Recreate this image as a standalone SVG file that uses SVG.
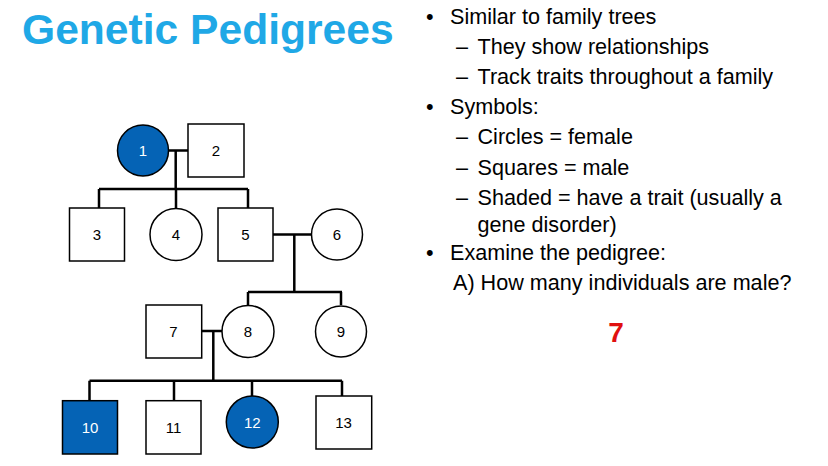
<svg xmlns="http://www.w3.org/2000/svg" width="828" height="466" viewBox="0 0 828 466">
<style>
.sq{fill:#fff;stroke:#000;stroke-width:1.5}
.ci{fill:#fff;stroke:#000;stroke-width:1.5}
.aff{fill:#0563b5}
.lbl{font-family:"Liberation Sans",Arial,sans-serif;font-size:15px;text-anchor:middle;fill:#000}
.wl{fill:#fff}
.ln{stroke:#000;stroke-width:2.5;fill:none}
.tx{font-family:"Liberation Sans",Arial,sans-serif;font-size:21.6px;fill:#000}
</style>
<rect width="828" height="466" fill="#fff"/>
<text x="22" y="44" font-family="Liberation Sans,Arial,sans-serif" font-size="42.6" font-weight="bold" fill="#1fa8e6">Genetic Pedigrees</text>
<g id="connectors">
<path class="ln" d="M168 150.5H188M175.7 150.5V189M99 189H248M99 189V208M176 189V208M248 189V208"/>
<path class="ln" d="M273 234.5H311.7M294.3 234.5V292M248 292H342M248 292V305M341 292V305"/>
<path class="ln" d="M201.7 331H222M213.3 331V380.7M89.5 380.7H342M89.5 380.7V400.7M174 380.7V400.7M252 380.7V396M342 380.7V396"/>
</g>
<g id="n1"><circle class="ci aff" cx="143" cy="150.5" r="25.5"/><text class="lbl wl" x="143" y="156">1</text></g>
<g id="n2"><rect class="sq" x="188" y="124" width="56" height="53"/><text class="lbl" x="216" y="156">2</text></g>
<g id="n3"><rect class="sq" x="69.5" y="208" width="55" height="53"/><text class="lbl" x="97" y="240">3</text></g>
<g id="n4"><circle class="ci" cx="176" cy="234.5" r="26"/><text class="lbl" x="176" y="240">4</text></g>
<g id="n5"><rect class="sq" x="218" y="208" width="55" height="53"/><text class="lbl" x="245.5" y="240">5</text></g>
<g id="n6"><circle class="ci" cx="337" cy="234.5" r="25.5"/><text class="lbl" x="337" y="240">6</text></g>
<g id="n7"><rect class="sq" x="146" y="305" width="55.7" height="53"/><text class="lbl" x="173.5" y="336.5">7</text></g>
<g id="n8"><circle class="ci" cx="248" cy="331.5" r="26"/><text class="lbl" x="248" y="337">8</text></g>
<g id="n9"><circle class="ci" cx="341" cy="331.5" r="25.5"/><text class="lbl" x="341" y="337">9</text></g>
<g id="n10"><rect class="sq aff" x="62.5" y="400.7" width="55" height="53.3"/><text class="lbl wl" x="90" y="432.5">10</text></g>
<g id="n11"><rect class="sq" x="146" y="400.7" width="55" height="53.3"/><text class="lbl" x="173.5" y="432.5">11</text></g>
<g id="n12"><circle class="ci aff" cx="252.3" cy="422" r="26"/><text class="lbl wl" x="252.3" y="427.5">12</text></g>
<g id="n13"><rect class="sq" x="316" y="396" width="55.7" height="53"/><text class="lbl" x="343.5" y="428">13</text></g>
<g id="text">
<text class="tx" x="426" y="23.5">•</text><text class="tx" x="450" y="23.5">Similar to family trees</text>
<text class="tx" x="456" y="53.5">–</text><text class="tx" x="477.5" y="53.5">They show relationships</text>
<text class="tx" x="456" y="83.5">–</text><text class="tx" x="477.5" y="83.5">Track traits throughout a family</text>
<text class="tx" x="426" y="113.5">•</text><text class="tx" x="450" y="113.5">Symbols:</text>
<text class="tx" x="456" y="143.5">–</text><text class="tx" x="477.5" y="143.5">Circles = female</text>
<text class="tx" x="456" y="175">–</text><text class="tx" x="477.5" y="175">Squares = male</text>
<text class="tx" x="456" y="205">–</text><text class="tx" x="477.5" y="205">Shaded = have a trait (usually a</text>
<text class="tx" x="477.5" y="232">gene disorder)</text>
<text class="tx" x="426" y="260">•</text><text class="tx" x="450" y="260">Examine the pedigree:</text>
<text class="tx" x="453" y="290">A) How many individuals are male?</text>
<text x="616" y="342" font-family="Liberation Sans,Arial,sans-serif" font-size="28" font-weight="bold" fill="#e01010" text-anchor="middle">7</text>
</g>
</svg>
